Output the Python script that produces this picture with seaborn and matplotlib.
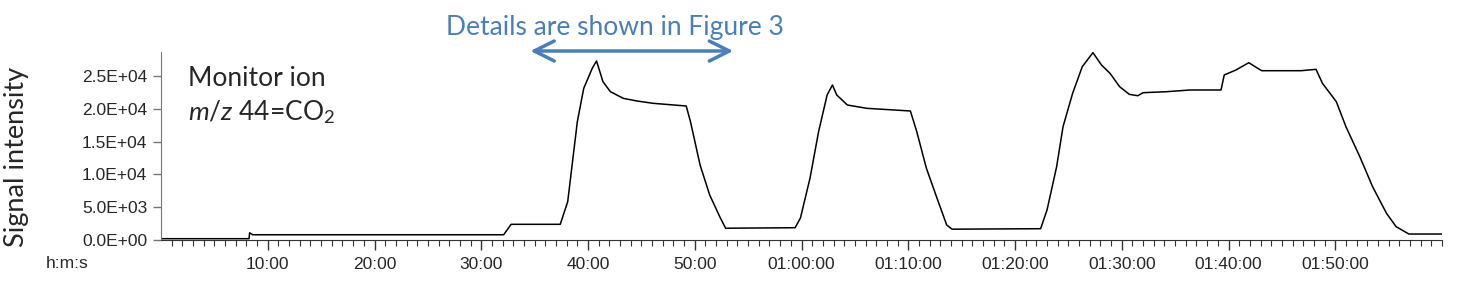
import matplotlib
matplotlib.use("Agg")
import matplotlib.pyplot as plt
import seaborn as sns
import numpy as np
import pandas as pd

# ---- data (time in minutes, signal intensity) ----
time_min = [0, 8.25, 8.3, 8.6, 32.1, 32.8, 37.4, 38.1, 39.0, 39.6, 40.4, 40.8,
            41.4, 42.1, 43.3, 44.6, 46.1, 49.2, 49.6, 50.5, 51.4, 52.4, 52.9,
            53.3, 59.4, 59.9, 60.8, 61.6, 62.4, 62.9, 63.3, 64.3, 66.1, 70.2,
            70.8, 71.7, 72.7, 73.6, 74.1, 82.4, 83.0, 83.9, 84.5, 85.4, 86.3,
            87.3, 88.1, 88.9, 89.8, 90.7, 91.5, 92.0, 94.2, 96.4, 99.3, 99.6,
            100.7, 101.9, 103.1, 106.8, 108.2, 108.8, 110.1, 111.0, 112.3,
            113.5, 114.8, 115.7, 116.9, 120.0]
signal = [200, 200, 1100, 800, 800, 2390, 2390, 5840, 18030, 23110, 26170, 27280,
          24130, 22600, 21590, 21180, 20830, 20420, 18030, 11430, 6860, 3350, 1780,
          1800, 1870, 3350, 9450, 16500, 22100, 23620, 22100, 20570, 20070, 19660,
          16500, 10930, 6350, 2290, 1650, 1720, 4570, 11170, 17270, 22360, 26410,
          28550, 26670, 25400, 23370, 22200, 21990, 22450, 22600, 22860, 22860, 25150,
          25910, 27020, 25800, 25800, 26010, 23880, 21080, 17270, 12700,
          8120, 4070, 2030, 910, 910]

xtick_pos = [10, 20, 30, 40, 50, 60, 70, 80, 90, 100, 110]
xtick_labels = ["10:00", "20:00", "30:00", "40:00", "50:00", "01:00:00",
                "01:10:00", "01:20:00", "01:30:00", "01:40:00", "01:50:00"]
ytick_vals = [0, 5000, 10000, 15000, 20000, 25000]
ytick_labels = ["0.0E+00", "5.0E+03", "1.0E+04", "1.5E+04", "2.0E+04", "2.5E+04"]

df = pd.DataFrame({"time": time_min, "signal": signal})

sns.set_style("ticks")
plt.rcParams['font.family'] = ['Liberation Sans', 'DejaVu Sans']
plt.rcParams['mathtext.fontset'] = 'custom'
plt.rcParams['mathtext.rm'] = 'Lato'
plt.rcParams['mathtext.it'] = 'Lato:italic'

fig = plt.figure(figsize=(14.76, 2.92), dpi=100)
ax = fig.add_axes([161/1476, 1-240/292, (1442-161)/1476, (240-52)/292])

sns.lineplot(data=df, x="time", y="signal", ax=ax, color="black", lw=1.1)

ax.set_xlim(0, 120)
ax.set_ylim(0, 28650)
ax.set_xticks(xtick_pos)
ax.set_xticklabels(xtick_labels, fontsize=12.5)
ax.set_xticks(np.arange(1, 121, 1), minor=True)
ax.set_yticks(ytick_vals)
ax.set_yticklabels(ytick_labels, fontsize=12.5)
ax.set_xlabel("")
ax.set_ylabel("Signal intensity", fontsize=19.5, family="Lato")
ax.yaxis.set_label_coords((29-161)/1281, (240-157)/188)

for s in ["top", "right"]:
    ax.spines[s].set_visible(False)
ax.spines["left"].set_color("#777777")
ax.spines["bottom"].set_color("#333333")
ax.tick_params(axis="x", which="major", length=7, width=1, color="#333333", pad=5)
ax.tick_params(axis="x", which="minor", length=4, width=0.8, color="#333333")
ax.tick_params(axis="y", length=6, width=1, color="#777777", pad=4)

fig.text(67/1476, 1-264/292, "h:m:s", fontsize=12.5, ha="center", va="center")

ax.text(2.5, 0.86, "Monitor ion", transform=ax.get_xaxis_transform(),
        fontsize=19, family="Lato", ha="left", va="center")
ax.text(2.5, 0.68, r"$\mathit{m/z}$ 44=CO$_2$", transform=ax.get_xaxis_transform(),
        fontsize=19, family="Lato", ha="left", va="center")

blue = "#4a7ebb"
ax.annotate("", xy=(34.6, 1-51/292), xytext=(53.6, 1-51/292),
            xycoords=("data", "figure fraction"), textcoords=("data", "figure fraction"),
            arrowprops=dict(arrowstyle="<->", color=blue, lw=2.5,
                            mutation_scale=36, shrinkA=0, shrinkB=0),
            annotation_clip=False)
ax.annotate("Details are shown in Figure 3", xy=(42.5, 1-28/292),
            xycoords=("data", "figure fraction"), ha="center", va="center",
            fontsize=19, family="Lato", color=blue, annotation_clip=False)

fig.savefig("out.png", dpi=100)
